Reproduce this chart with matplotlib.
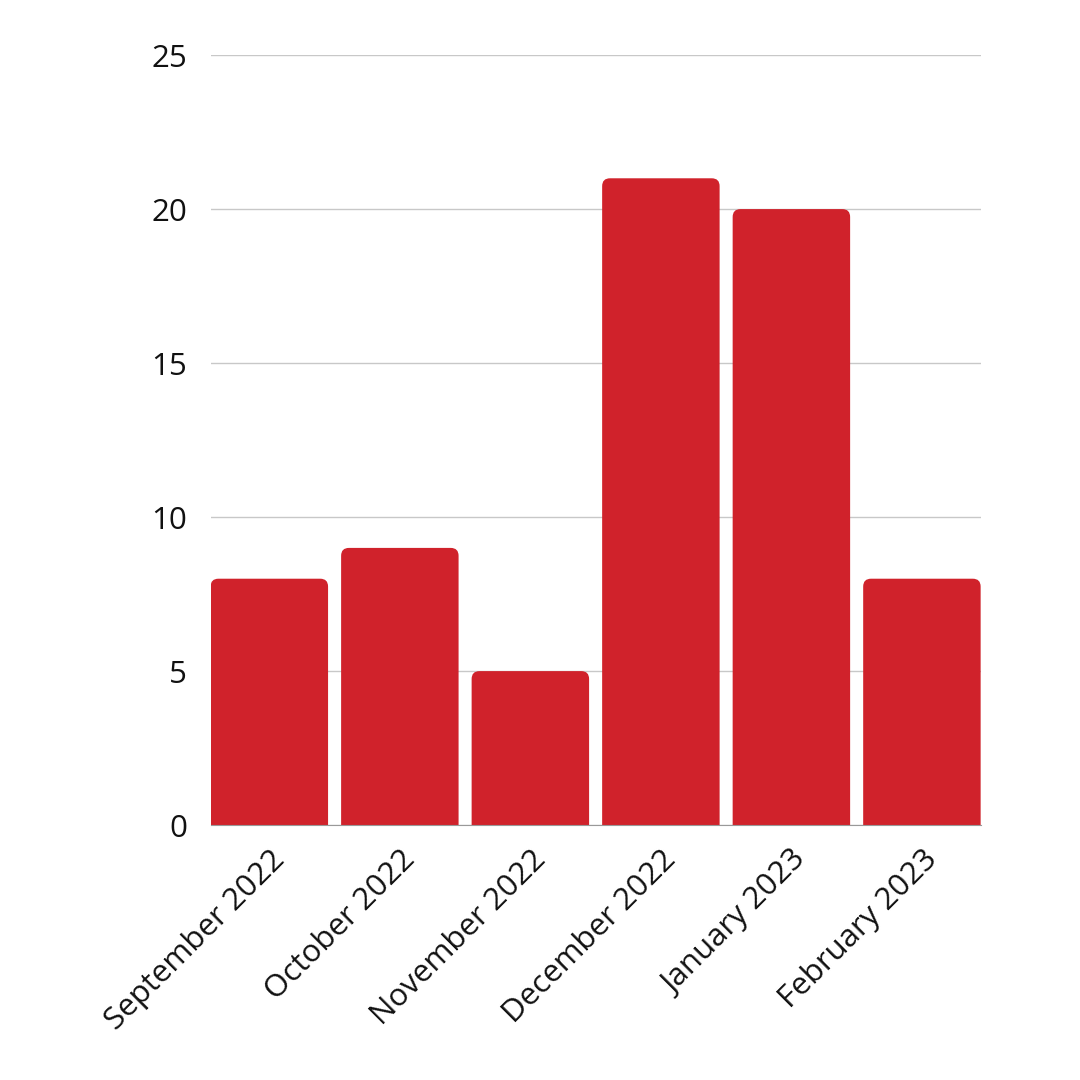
import matplotlib
matplotlib.use('Agg')
import matplotlib.pyplot as plt
from matplotlib.patches import FancyBboxPatch

# Datos
meses = ['September 2022', 'October 2022', 'November 2022',
         'December 2022', 'January 2023', 'February 2023']
valores = [8, 9, 5, 21, 20, 8]
ticks_y = [0, 5, 10, 15, 20, 25]

plt.rcParams['font.family'] = ['Open Sans', 'DejaVu Sans']

fig = plt.figure(figsize=(10.8, 10.8), dpi=100)
ax = fig.add_axes([0.195, 0.236, 0.713, 0.713])

x = list(range(len(meses)))
ancho = 0.9
ax.set_xlim(-ancho / 2, len(meses) - 1 + ancho / 2)
ax.set_ylim(0, 25)

# aspecto de datos para redondear esquinas
rango_x = len(meses) - 1 + ancho
asp = 25 / rango_x
radio = 0.06
for xi, v in zip(x, valores):
    p = FancyBboxPatch((xi - ancho / 2, -1), ancho, v + 1,
                       boxstyle=f'round,pad=0,rounding_size={radio}',
                       mutation_aspect=asp, facecolor='#D0222B',
                       edgecolor='none', zorder=3)
    ax.add_patch(p)

ax.set_yticks(ticks_y)
ax.set_yticklabels([str(t) for t in ticks_y])
ax.grid(axis='y', color='#C8C8C8', linewidth=1, zorder=0)
ax.set_xticks(x)
ax.set_xticklabels(meses, rotation=45, ha='right', rotation_mode='anchor')
ax.tick_params(axis='both', length=0, labelsize=22.5, colors='#111111')
ax.tick_params(axis='y', pad=17)
ax.tick_params(axis='x', pad=14)
for lado in ['top', 'right', 'left']:
    ax.spines[lado].set_visible(False)
ax.spines['bottom'].set_color('#999999')
ax.spines['bottom'].set_zorder(4)

plt.savefig('out.png', dpi=100)
